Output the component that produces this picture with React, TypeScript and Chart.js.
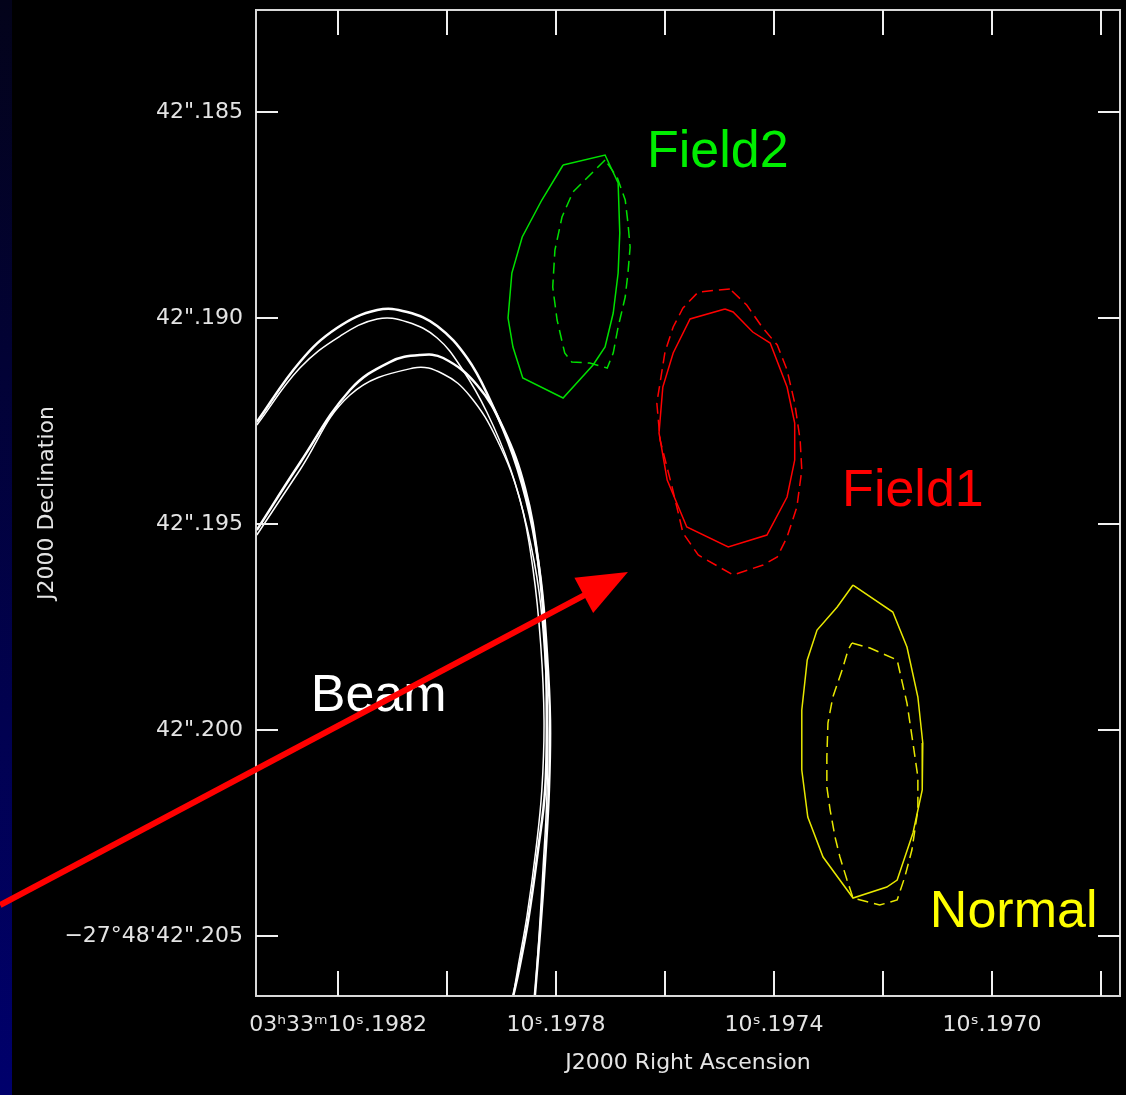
import React, { useEffect, useRef } from "react";
import { Chart, registerables } from "chart.js";

Chart.register(...registerables);

// Axis ticks (RA in seconds of time, Dec in arcseconds of -27°48')
const X_TICKS = [10.1982, 10.198, 10.1978, 10.1976, 10.1974, 10.1972, 10.197, 10.1968];
const X_TICK_LABELS = ["03ʰ33ᵐ10ˢ.1982", "", "10ˢ.1978", "", "10ˢ.1974", "", "10ˢ.1970", ""];
const Y_TICKS = [42.185, 42.19, 42.195, 42.2, 42.205];
const Y_TICK_LABELS = ['42".185', '42".190', '42".195', '42".200', "−27°48'42\".205"];
const X_RANGE = [10.1967651, 10.1983505];
const Y_RANGE = [42.182524, 42.206456];

// Field2 (green) contours
const FIELD2_SOLID: [number, number][] = [
  [10.197787, 42.186286], [10.19771, 42.186044], [10.197686, 42.186723], [10.197683, 42.187937],
  [10.197686, 42.188908], [10.197695, 42.189879], [10.19771, 42.190704], [10.197732, 42.191141],
  [10.197787, 42.191942], [10.197861, 42.191456], [10.197879, 42.190704], [10.197888, 42.19],
  [10.197881, 42.188908], [10.197862, 42.188034], [10.197826, 42.187136], [10.197787, 42.186286],
];
const FIELD2_DASHED: [number, number][] = [
  [10.19771, 42.186165], [10.197769, 42.186942], [10.197789, 42.187549], [10.197802, 42.18835],
  [10.197806, 42.189248], [10.197798, 42.190049], [10.197784, 42.19085], [10.197771, 42.191068],
  [10.197738, 42.191092], [10.197706, 42.191214], [10.197695, 42.19085], [10.197686, 42.190218],
  [10.197673, 42.18949], [10.197668, 42.188908], [10.197664, 42.188277], [10.197668, 42.187694],
  [10.197673, 42.187136], [10.197688, 42.186578], [10.19771, 42.186165],
];

// Field1 (red) contours
const FIELD1_SOLID: [number, number][] = [
  [10.19749, 42.189782], [10.197554, 42.190024], [10.197585, 42.19085], [10.197604, 42.191675],
  [10.197611, 42.192791], [10.197596, 42.193932], [10.19756, 42.195073], [10.197484, 42.195558],
  [10.197413, 42.195267], [10.197376, 42.194345], [10.197362, 42.193447], [10.197362, 42.192549],
  [10.197376, 42.191675], [10.197407, 42.190607], [10.197439, 42.19034], [10.197475, 42.189854],
  [10.19749, 42.189782],
];
const FIELD1_DASHED: [number, number][] = [
  [10.197481, 42.189296], [10.197539, 42.189369], [10.197567, 42.189757], [10.197585, 42.190218],
  [10.1976, 42.190825], [10.197615, 42.192063], [10.197609, 42.192961], [10.197587, 42.194102],
  [10.197567, 42.195219], [10.197539, 42.195752], [10.197475, 42.196238], [10.19742, 42.195995],
  [10.197394, 42.195801], [10.197376, 42.195316], [10.197358, 42.194587], [10.197349, 42.193689],
  [10.197352, 42.192961], [10.197362, 42.192063], [10.197376, 42.191262], [10.197394, 42.190655],
  [10.197422, 42.190218], [10.19745, 42.189684], [10.197481, 42.189296],
];

// Normal (yellow) contours
const NORMAL_SOLID: [number, number][] = [
  [10.197255, 42.196481], [10.197182, 42.197136], [10.197156, 42.197986], [10.197136, 42.199199],
  [10.197127, 42.200316], [10.197128, 42.201456], [10.197145, 42.2025], [10.197174, 42.203641],
  [10.197193, 42.203811], [10.197255, 42.204078], [10.19731, 42.203083], [10.197338, 42.202112],
  [10.197349, 42.200971], [10.197349, 42.199515], [10.197339, 42.198301], [10.197321, 42.197573],
  [10.197284, 42.197015], [10.197255, 42.196481],
];
const NORMAL_DASHED: [number, number][] = [
  [10.197257, 42.197888], [10.197224, 42.19801], [10.197174, 42.198301], [10.197156, 42.199345],
  [10.197145, 42.200316], [10.197136, 42.201141], [10.197136, 42.201942], [10.197147, 42.202913],
  [10.19716, 42.203568], [10.197174, 42.204126], [10.197206, 42.204248], [10.197255, 42.204078],
  [10.197266, 42.203641], [10.197279, 42.203083], [10.197288, 42.202597], [10.197297, 42.201942],
  [10.197303, 42.201384], [10.197303, 42.200655], [10.197301, 42.19983], [10.197292, 42.199199],
  [10.197275, 42.198544], [10.197264, 42.198058], [10.197257, 42.197888],
];

// Beam arcs (white)
const BEAM_A: [number, number][] = [
  [10.198349, 42.192524], [10.19827, 42.191068], [10.198202, 42.190243], [10.198128, 42.189806],
  [10.198073, 42.189854], [10.198018, 42.190194], [10.197963, 42.190971], [10.197921, 42.19199],
  [10.197879, 42.193325], [10.197848, 42.194782], [10.197828, 42.196359], [10.197817, 42.198058],
  [10.197811, 42.199757], [10.197813, 42.201456], [10.19782, 42.203155], [10.197829, 42.204854],
  [10.197839, 42.206481],
];
const BEAM_B: [number, number][] = [
  [10.198349, 42.192597], [10.19827, 42.191214], [10.198196, 42.190437], [10.198128, 42.190024],
  [10.198073, 42.190097], [10.198018, 42.190485], [10.197971, 42.191262], [10.197927, 42.192282],
  [10.197884, 42.193641], [10.197853, 42.195097], [10.197831, 42.196651], [10.19782, 42.198301],
  [10.197815, 42.2], [10.197817, 42.201699], [10.197824, 42.203398], [10.197831, 42.204976],
  [10.197839, 42.206481],
];
const BEAM_C: [number, number][] = [
  [10.198349, 42.195146], [10.19827, 42.193519], [10.198178, 42.191748], [10.198105, 42.191068],
  [10.19805, 42.190898], [10.198007, 42.190971], [10.197945, 42.191626], [10.197897, 42.19267],
  [10.197857, 42.194126], [10.197833, 42.195874], [10.19782, 42.197816], [10.197817, 42.199757],
  [10.19782, 42.201456], [10.197833, 42.202913], [10.197851, 42.204612], [10.197868, 42.205825],
  [10.197879, 42.206481],
];
const BEAM_D: [number, number][] = [
  [10.198349, 42.195267], [10.19827, 42.193689], [10.198178, 42.191869], [10.198062, 42.191214],
  [10.198007, 42.191359], [10.197958, 42.191893], [10.197908, 42.192961], [10.197866, 42.194418],
  [10.197842, 42.196117], [10.197828, 42.197937], [10.197822, 42.199757], [10.197826, 42.201456],
  [10.197837, 42.202913], [10.197853, 42.20449], [10.19787, 42.205777], [10.197879, 42.206481],
];

// Annotations
const LABELS = [
  { text: "Field2", color: "#00ee00", x: 10.197633, y: 42.185995 },
  { text: "Field1", color: "#ff0000", x: 10.197275, y: 42.194223 },
  { text: "Normal", color: "#ffff00", x: 10.197114, y: 42.204442 },
  { text: "Beam", color: "#ffffff", x: 10.19825, y: 42.199199 },
];
const ARROW_TAIL: [number, number] = [10.19882, 42.204248];
const ARROW_TIP: [number, number] = [10.197668, 42.196165];

const AXIS_COLOR = "#e4e4e4";
const TICK_FONT = { family: "'DejaVu Sans'", size: 22 };

const toPts = (arr: [number, number][]) => arr.map(([x, y]) => ({ x, y }));

const decorPlugin = {
  id: "decor",
  beforeDraw(chart: any) {
    const { ctx, width, height } = chart;
    ctx.save();
    ctx.fillStyle = "#000";
    ctx.fillRect(0, 0, width, height);
    const g = ctx.createLinearGradient(0, 0, 0, height);
    g.addColorStop(0, "#03031a");
    g.addColorStop(1, "#00006c");
    ctx.fillStyle = g;
    ctx.fillRect(0, 0, 12, height);
    ctx.restore();
  },
  afterDatasetsDraw(chart: any) {
    const { ctx, chartArea, scales } = chart;
    const { left, right, top, bottom } = chartArea;
    ctx.save();
    ctx.strokeStyle = "#d8d8d8";
    ctx.lineWidth = 2;
    ctx.strokeRect(left, top, right - left, bottom - top);
    ctx.strokeStyle = "#f0f0f0";
    ctx.lineWidth = 2;
    ctx.beginPath();
    X_TICKS.forEach((v) => {
      const px = Math.round(scales.x.getPixelForValue(v));
      ctx.moveTo(px, bottom);
      ctx.lineTo(px, bottom - 25);
      ctx.moveTo(px, top);
      ctx.lineTo(px, top + 25);
    });
    Y_TICKS.forEach((v) => {
      const py = Math.round(scales.y.getPixelForValue(v));
      ctx.moveTo(left, py);
      ctx.lineTo(left + 22, py);
      ctx.moveTo(right, py);
      ctx.lineTo(right - 22, py);
    });
    ctx.stroke();
    ctx.font = "52px 'Liberation Sans', Arial, sans-serif";
    ctx.textAlign = "left";
    ctx.textBaseline = "middle";
    LABELS.forEach((l) => {
      ctx.fillStyle = l.color;
      ctx.fillText(l.text, scales.x.getPixelForValue(l.x), scales.y.getPixelForValue(l.y));
    });
    ctx.restore();
  },
  afterDraw(chart: any) {
    const { ctx, scales } = chart;
    const tx = scales.x.getPixelForValue(ARROW_TAIL[0]);
    const ty = scales.y.getPixelForValue(ARROW_TAIL[1]);
    const hx = scales.x.getPixelForValue(ARROW_TIP[0]);
    const hy = scales.y.getPixelForValue(ARROW_TIP[1]);
    const ang = Math.atan2(hy - ty, hx - tx);
    const headLen = 50;
    const headHalf = 20;
    const bx = hx - headLen * Math.cos(ang);
    const by = hy - headLen * Math.sin(ang);
    ctx.save();
    ctx.strokeStyle = "#ff0000";
    ctx.fillStyle = "#ff0000";
    ctx.lineWidth = 6;
    ctx.beginPath();
    ctx.moveTo(tx, ty);
    ctx.lineTo(bx + 4 * Math.cos(ang), by + 4 * Math.sin(ang));
    ctx.stroke();
    ctx.beginPath();
    ctx.moveTo(hx, hy);
    ctx.lineTo(bx - headHalf * Math.sin(ang), by + headHalf * Math.cos(ang));
    ctx.lineTo(bx + headHalf * Math.sin(ang), by - headHalf * Math.cos(ang));
    ctx.closePath();
    ctx.fill();
    ctx.restore();
  },
};

function contour(data: [number, number][], color: string, dashed: boolean, width = 1.5) {
  return {
    data: toPts(data),
    showLine: true,
    borderColor: color,
    borderWidth: width,
    borderDash: dashed ? [11, 6] : [],
    pointRadius: 0,
    tension: 0,
    fill: false,
  };
}

function beam(data: [number, number][], width: number) {
  return {
    data: toPts(data),
    showLine: true,
    borderColor: "#ffffff",
    borderWidth: width,
    pointRadius: 0,
    tension: 0.4,
    fill: false,
  };
}

export default function App() {
  const ref = useRef<HTMLCanvasElement>(null);
  useEffect(() => {
    if (!ref.current) return;
    const chart = new Chart(ref.current, {
      type: "scatter",
      data: {
        datasets: [
          beam(BEAM_A, 2.5),
          beam(BEAM_B, 1.5),
          beam(BEAM_C, 2.5),
          beam(BEAM_D, 1.5),
          contour(FIELD2_SOLID, "#00e000", false),
          contour(FIELD2_DASHED, "#00e000", true),
          contour(FIELD1_SOLID, "#ff0000", false),
          contour(FIELD1_DASHED, "#ff0000", true),
          contour(NORMAL_SOLID, "#e8e800", false),
          contour(NORMAL_DASHED, "#e8e800", true),
        ] as any,
      },
      options: {
        responsive: false,
        animation: false,
        events: [],
        layout: { padding: { top: 10, right: 6, left: 0, bottom: 0 } },
        plugins: { legend: { display: false }, tooltip: { enabled: false } },
        scales: {
          x: {
            type: "linear",
            reverse: true,
            min: X_RANGE[0],
            max: X_RANGE[1],
            afterBuildTicks: (s: any) => {
              s.ticks = X_TICKS.map((v) => ({ value: v }));
            },
            afterFit: (s: any) => {
              s.height = 99;
              s.paddingLeft = 0;
              s.paddingRight = 0;
            },
            grid: { display: false, drawTicks: false },
            border: { display: false },
            ticks: {
              autoSkip: false,
              maxRotation: 0,
              minRotation: 0,
              padding: 16,
              color: AXIS_COLOR,
              font: TICK_FONT,
              callback: (_v: any, i: number) => X_TICK_LABELS[i] ?? "",
            },
            title: {
              display: true,
              text: "J2000 Right Ascension",
              color: AXIS_COLOR,
              font: TICK_FONT,
              padding: { top: 4, bottom: 19 },
            },
          },
          y: {
            type: "linear",
            reverse: true,
            min: Y_RANGE[0],
            max: Y_RANGE[1],
            afterBuildTicks: (s: any) => {
              s.ticks = Y_TICKS.map((v) => ({ value: v }));
            },
            afterFit: (s: any) => {
              s.width = 256;
              s.paddingTop = 0;
              s.paddingBottom = 0;
            },
            grid: { display: false, drawTicks: false },
            border: { display: false },
            ticks: {
              autoSkip: false,
              padding: 13,
              color: AXIS_COLOR,
              font: TICK_FONT,
              callback: (_v: any, i: number) => Y_TICK_LABELS[i] ?? "",
            },
            title: {
              display: true,
              text: "J2000 Declination",
              color: AXIS_COLOR,
              font: TICK_FONT,
              padding: { top: 34, bottom: 4 },
            },
          },
        },
      } as any,
      plugins: [decorPlugin],
    });
    return () => chart.destroy();
  }, []);
  return (
    <div style={{ position: "fixed", left: 0, top: 0, width: 1126, height: 1095, background: "#000" }}>
      <canvas ref={ref} width={1126} height={1095} style={{ display: "block" }} />
    </div>
  );
}
